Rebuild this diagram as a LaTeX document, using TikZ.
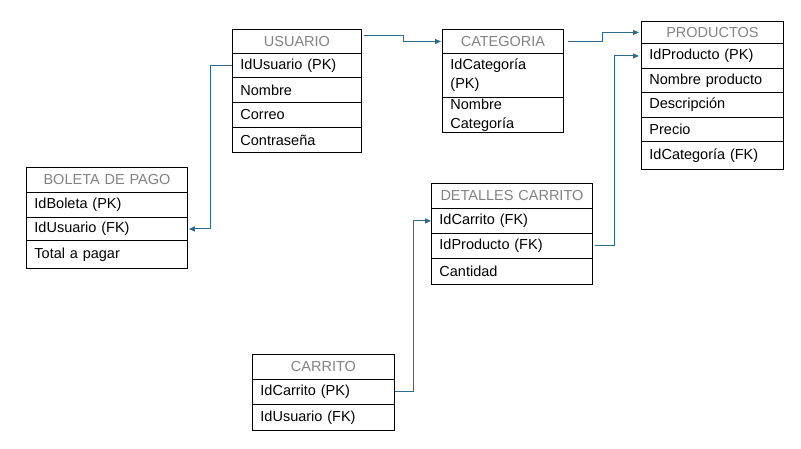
\documentclass[tikz,border=0pt]{standalone}
\usepackage{fontspec}
\setmainfont{Liberation Sans}
\usepackage{xcolor}
\usetikzlibrary{arrows.meta}
\definecolor{linea}{RGB}{46,106,140}
\definecolor{titulo}{RGB}{130,130,130}
\tikzset{
  celda/.style={draw, anchor=north west, inner xsep=8pt, inner ysep=0pt, align=left, line width=0.9pt, font=\fontsize{14.5}{19}\selectfont},
  cabecera/.style={celda, align=center, text=titulo},
  rel/.style={draw=linea, line width=1pt, -{Triangle[length=6pt,width=5pt]}}
}
\begin{document}
\begin{tikzpicture}[x=1pt,y=-1pt]
\useasboundingbox (0,0) rectangle (801,448);
\node[cabecera,text width=113pt,minimum height=24pt] (uh) at (232,29) {USUARIO};
\node[celda,text width=113pt,minimum height=24pt] (u1) at (232,53) {IdUsuario (PK)};
\node[celda,text width=113pt,minimum height=25pt] (u2) at (232,77) {Nombre};
\node[celda,text width=113pt,minimum height=25pt] (u3) at (232,102) {Correo};
\node[celda,text width=113pt,minimum height=25pt] (u4) at (232,127) {Contraseña};
\node[cabecera,text width=105pt,minimum height=24pt] (ch) at (442,29) {CATEGORIA};
\node[celda,text width=105pt,minimum height=44pt] (c1) at (442,53) {IdCategoría\\(PK)};
\node[celda,text width=105pt,minimum height=35pt] (c2) at (442,97) {Nombre\\Categoría};
\node[cabecera,text width=126pt,minimum height=22pt] (ph) at (641,21) {PRODUCTOS};
\node[celda,text width=126pt,minimum height=25pt] (p1) at (641,43) {IdProducto (PK)};
\node[celda,text width=126pt,minimum height=24pt] (p2) at (641,68) {Nombre producto};
\node[celda,text width=126pt,minimum height=25pt] (p3) at (641,92) {Descripción};
\node[celda,text width=126pt,minimum height=24pt] (p4) at (641,117) {Precio};
\node[celda,text width=126pt,minimum height=28pt] (p5) at (641,141) {IdCategoría (FK)};
\node[cabecera,text width=145pt,minimum height=25pt] (bh) at (26,167) {BOLETA DE PAGO};
\node[celda,text width=145pt,minimum height=25pt] (b1) at (26,192) {IdBoleta (PK)};
\node[celda,text width=145pt,minimum height=23pt] (b2) at (26,217) {IdUsuario (FK)};
\node[celda,text width=145pt,minimum height=28pt] (b3) at (26,240) {Total a pagar};
\node[cabecera,text width=145pt,minimum height=25pt] (dh) at (431,183) {DETALLES CARRITO};
\node[celda,text width=145pt,minimum height=25pt] (d1) at (431,208) {IdCarrito (FK)};
\node[celda,text width=145pt,minimum height=25pt] (d2) at (431,233) {IdProducto (FK)};
\node[celda,text width=145pt,minimum height=26pt] (d3) at (431,258) {Cantidad};
\node[cabecera,text width=126pt,minimum height=25pt] (kh) at (252,354) {CARRITO};
\node[celda,text width=126pt,minimum height=25pt] (k1) at (252,379) {IdCarrito (PK)};
\node[celda,text width=126pt,minimum height=26pt] (k2) at (252,404) {IdUsuario (FK)};
\draw[rel] ([shift={(2,-6)}]uh.east) -- ++(40,0) |- ([xshift=-1pt]ch.west);
\draw[rel] ([xshift=4pt]ch.east) -- ++(35,0) |- ([xshift=-2pt]ph.west);
\draw[rel] ([xshift=2pt]d2.east) -- ++(20,0) |- ([xshift=-2pt]p1.west);
\draw[rel] (u1.west) -- ++(-22,0) |- ([xshift=1pt]b2.east);
\draw[rel] (k1.east) -- ++(19,0) |- (d1.west);
\end{tikzpicture}
\end{document}
